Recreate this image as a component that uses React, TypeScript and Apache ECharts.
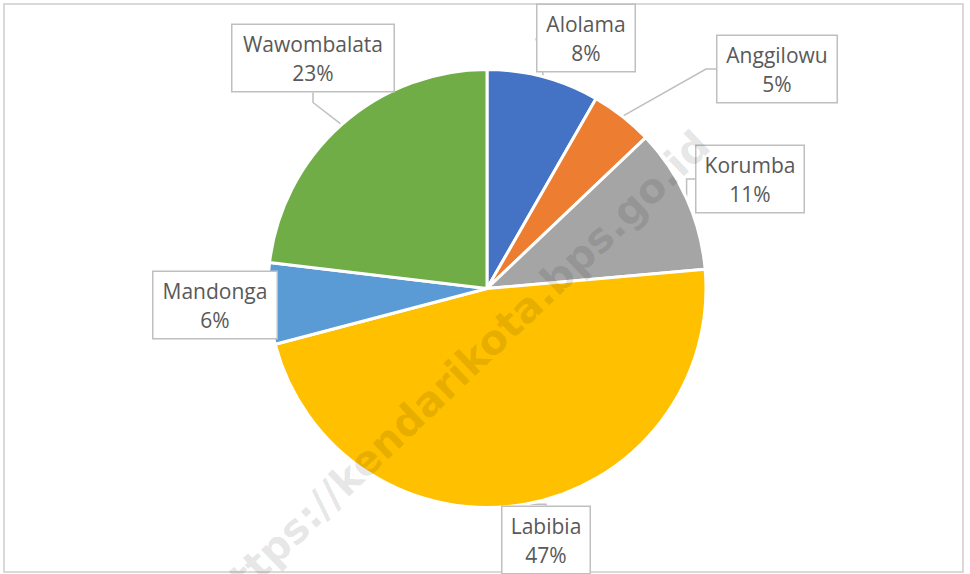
import React, { useEffect, useRef } from "react";
import * as echarts from "echarts";

const categories = ["Alolama", "Anggilowu", "Korumba", "Labibia", "Mandonga", "Wawombalata"];
const values = [8.3, 4.6, 10.7, 47.3, 6.0, 23.1];
const colors = ["#4472C4", "#ED7D31", "#A5A5A5", "#FFC000", "#5B9BD5", "#70AD47"];

// label box layout (centre x, centre y, box width)
const labelCenters: [number, number][] = [
  [586, 38],
  [777, 69],
  [750, 179],
  [546, 540],
  [215, 305],
  [313, 58],
];
const labelBoxWidths = [97, 119, 107, 87, 123, 161];

const WATERMARK = "https://kendarikota.bps.go.id";

export default function App() {
  const ref = useRef<HTMLDivElement>(null);

  useEffect(() => {
    if (!ref.current) return;
    const chart = echarts.init(ref.current, null, { renderer: "svg" });
    const padH = 7;
    const option: any = {
      animation: false,
      backgroundColor: "#ffffff",
      graphic: [
        {
          type: "rect",
          shape: { x: 4, y: 4, width: 959, height: 568 },
          style: { fill: "none", stroke: "#d9d9d9", lineWidth: 2 },
          z: -1,
          silent: true,
        },
        {
          type: "text",
          x: 459,
          y: 372,
          rotation: (43.7 * Math.PI) / 180,
          z: 100,
          silent: true,
          style: {
            text: WATERMARK,
            fill: "rgba(0,0,0,0.1)",
            fontFamily: "'DejaVu Sans', sans-serif",
            fontWeight: "bold",
            fontSize: 41,
            textAlign: "center",
            textVerticalAlign: "middle",
          },
        },
      ],
      series: [
        {
          type: "pie",
          center: [487, 288.5],
          radius: 219,
          startAngle: 90,
          clockwise: true,
          avoidLabelOverlap: false,
          itemStyle: { borderColor: "#ffffff", borderWidth: 3 },
          data: categories.map((name, i) => ({
            name,
            value: values[i],
            itemStyle: { color: colors[i] },
            label: { width: labelBoxWidths[i] - padH * 2 },
          })),
          label: {
            show: true,
            position: "outside",
            formatter: (p: any) => `${p.name}\n${Math.round(p.percent)}%`,
            fontFamily: "'Open Sans', sans-serif",
            fontSize: 21,
            lineHeight: 29,
            color: "#595959",
            align: "center",
            backgroundColor: "#ffffff",
            borderColor: "#bfbfbf",
            borderWidth: 1.5,
            padding: [4, padH, 4, padH],
          },
          labelLine: {
            show: true,
            length: 10,
            length2: 10,
            smooth: false,
            lineStyle: { color: "#bfbfbf", width: 1.5 },
          },
          labelLayout: (params: any) => {
            const c = labelCenters[params.dataIndex];
            return {
              x: c[0],
              y: c[1],
              align: "center",
              verticalAlign: "middle",
              hideOverlap: false,
            };
          },
        },
      ],
    };
    chart.setOption(option);
    return () => chart.dispose();
  }, []);

  return (
    <div
      ref={ref}
      style={{ position: "fixed", left: 0, top: 0, width: 970, height: 574 }}
    />
  );
}
